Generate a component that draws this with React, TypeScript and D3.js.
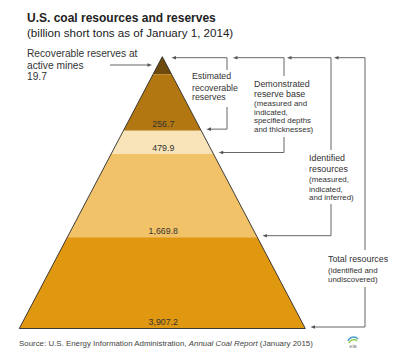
import React from "react";
import * as d3 from "d3";

const bandNames = [
  "Recoverable reserves at active mines",
  "Estimated recoverable reserves",
  "Demonstrated reserve base",
  "Identified resources",
  "Total resources",
];
const bandValues = [19.7, 256.7, 479.9, 1669.8, 3907.2];
const bandColors = ["#6e4a0d", "#b27711", "#f8e4b8", "#f1c267", "#df980f"];

const W = 396;
const H = 348;
const apexX = 162.3;
const apexY = 56.7;
const baseY = 328.5;
const halfBase = 143;
// layout: bottom edge of each band as a fraction of pyramid height
const bandBottoms = [0.065, 0.272, 0.358, 0.664, 1];

const fmt = d3.format(",.1f");
const FONT = "Liberation Sans, Arial, Helvetica, sans-serif";

function Arrow({ x, y, dir }: { x: number; y: number; dir: "left" | "right" }) {
  const s = dir === "left" ? 1 : -1;
  return (
    <path
      d={`M${x},${y} L${x + 4.5 * s},${y - 1.8} L${x + 4.5 * s},${y + 1.8} Z`}
      fill="#555"
    />
  );
}

export default function App() {
  const yScale = d3.scaleLinear().domain([0, 1]).range([apexY, baseY]);
  const halfW = (f: number) => halfBase * f;
  const edgeRight = (y: number) => apexX + (halfBase * (y - apexY)) / (baseY - apexY);

  const bands = bandValues.map((v, i) => {
    const f0 = i === 0 ? 0 : bandBottoms[i - 1];
    const f1 = bandBottoms[i];
    const y0 = yScale(f0);
    const y1 = yScale(f1);
    const path = d3.line()([
      [apexX - halfW(f0), y0],
      [apexX + halfW(f0), y0],
      [apexX + halfW(f1), y1],
      [apexX - halfW(f1), y1],
    ]) + "Z";
    return { v, i, y0, y1, path, name: bandNames[i] };
  });

  const lineStroke = "#666";
  const topY = 57.7;

  const brackets = [
    { ax: 171.5, vx: 227, gTop: 70, gBot: 107, band: 1 },
    { ax: 233, vx: 284, gTop: 76, gBot: 137, band: 2 },
    { ax: 287, vx: 331, gTop: 150, gBot: 204, band: 3 },
    { ax: 334, vx: 365, gTop: 250, gBot: 287, band: 4 },
  ];

  const bracketLines = brackets.map((b) => {
    const yb = bands[b.band].y1 - 1.5;
    const ex = edgeRight(yb) + 6;
    return { ...b, yb, ex };
  });

  return (
    <svg
      width={W}
      height={H}
      style={{ position: "fixed", left: 0, top: 0, background: "#fff" }}
      fontFamily={FONT}
    >
      <rect width={W} height={H} fill="#fff" />
      <text x={27} y={22} fontSize={12} fontWeight="bold" fill="#222">
        U.S. coal resources and reserves
      </text>
      <text x={27} y={37} fontSize={11.6} fill="#222">
        (billion short tons as of January 1, 2014)
      </text>

      {bands.map((b) => (
        <path key={b.i} d={b.path} fill={bandColors[b.i]} />
      ))}
      <path
        d={`M${apexX - halfBase},${baseY} L${apexX},${apexY} L${apexX + halfBase},${baseY} Z`}
        fill="none"
        stroke="#2a2a2a"
        strokeWidth={0.9}
      />

      {bands.slice(1).map((b) => (
        <text
          key={b.i}
          x={apexX + 1}
          y={b.y1 - 3.5}
          fontSize={8.8}
          fill="#333"
          textAnchor="middle"
        >
          {fmt(b.v)}
        </text>
      ))}

      <text fontSize={10.2} fill="#333">
        <tspan x={27} y={57}>Recoverable reserves at</tspan>
        <tspan x={27} y={69}>active mines</tspan>
        <tspan x={27} y={80}>{fmt(bandValues[0])}</tspan>
      </text>
      <line x1={110} y1={65} x2={148} y2={65} stroke={lineStroke} strokeWidth={1} />
      <Arrow x={152} y={65} dir="right" />

      {bracketLines.map((b, i) => (
        <g key={i}>
          <line x1={b.ax + 3} y1={topY} x2={b.vx} y2={topY} stroke={lineStroke} strokeWidth={1} />
          <Arrow x={b.ax} y={topY} dir="left" />
          <line x1={b.vx} y1={topY} x2={b.vx} y2={b.gTop} stroke={lineStroke} strokeWidth={1} />
          <line x1={b.vx} y1={b.gBot} x2={b.vx} y2={b.yb} stroke={lineStroke} strokeWidth={1} />
          <line x1={b.vx} y1={b.yb} x2={b.ex + 3} y2={b.yb} stroke={lineStroke} strokeWidth={1} />
          <Arrow x={b.ex} y={b.yb} dir="left" />
        </g>
      ))}

      <text fontSize={8.8} fill="#333">
        <tspan x={192} y={79}>Estimated</tspan>
        <tspan x={192} y={90.5}>recoverable</tspan>
        <tspan x={192} y={100}>reserves</tspan>
      </text>

      <text fill="#333">
        <tspan x={254} y={87} fontSize={8.9}>Demonstrated</tspan>
        <tspan x={254} y={97} fontSize={8.9}>reserve base</tspan>
        <tspan x={254} y={106} fontSize={7.9}>(measured and</tspan>
        <tspan x={254} y={114.5} fontSize={7.9}>indicated,</tspan>
        <tspan x={254} y={123} fontSize={7.9}>specified depths</tspan>
        <tspan x={254} y={132} fontSize={7.9}>and thicknesses)</tspan>
      </text>

      <text fill="#333">
        <tspan x={309} y={161} fontSize={8.9}>Identified</tspan>
        <tspan x={309} y={172} fontSize={8.9}>resources</tspan>
        <tspan x={309} y={182} fontSize={7.9}>(measured,</tspan>
        <tspan x={309} y={191.5} fontSize={7.9}>indicated,</tspan>
        <tspan x={309} y={200} fontSize={7.9}>and inferred)</tspan>
      </text>

      <text fill="#333">
        <tspan x={328} y={262} fontSize={8.9}>Total resources</tspan>
        <tspan x={328} y={272.5} fontSize={7.9}>(identified and</tspan>
        <tspan x={328} y={281.5} fontSize={7.9}>undiscovered)</tspan>
      </text>

      <text x={19} y={345.5} fontSize={7.9} fill="#444">
        Source: U.S. Energy Information Administration,{" "}
        <tspan fontStyle="italic">Annual Coal Report</tspan> (January 2015)
      </text>

      <g transform="translate(353,341)">
        <path d="M-5,0 A6,6 0 0 1 5,-2" fill="none" stroke="#4aa3c8" strokeWidth={1.5} />
        <path d="M-4,2 A5,5 0 0 1 4,0" fill="none" stroke="#8cc63f" strokeWidth={1.2} />
        <text x={0} y={6.5} fontSize={5.5} textAnchor="middle" fill="#777">eia</text>
      </g>
    </svg>
  );
}
